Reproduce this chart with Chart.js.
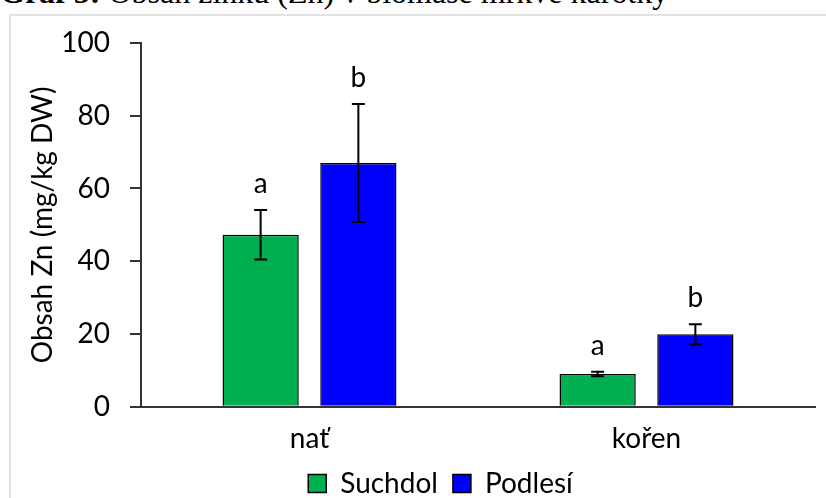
<!DOCTYPE html>
<html>
<head>
<meta charset="utf-8">
<script src="https://cdn.jsdelivr.net/npm/chart.js@4/dist/chart.umd.min.js"></script>
<style>
	html, body { margin: 0; padding: 0; background: #fff; }
	body { width: 826px; height: 498px; position: relative; overflow: hidden; }
	#caption {
		position: absolute; left: 0; top: -24px;
		font-family: "Liberation Serif", "Times New Roman", serif;
		font-size: 32px; line-height: 32px; white-space: nowrap; color: #000;
	}
	#frame {
		position: absolute; left: 9px; top: 14px; width: 900px; height: 600px;
		border: 2px solid #e3e3e3;
	}
	#chart { position: absolute; left: 0; top: 0; }
</style>
</head>
<body>
<div id="caption"><b>Graf 5:</b> Obsah zinku (Zn) v biomase mrkve karotky</div>
<div id="frame"></div>
<canvas id="chart" width="826" height="498"></canvas>
<script>
// categories and series
const categories = ["nať", "kořen"];
const seriesNames = ["Suchdol", "Podlesí"];
const suchdolValues = [47.3, 9.0];
const podlesiValues = [67.0, 19.9];
const suchdolErrors = [6.8, 0.6];
const podlesiErrors = [16.2, 2.8];
const suchdolLetters = ["a", "a"];
const podlesiLetters = ["b", "b"];
const yTicks = [0, 20, 40, 60, 80, 100];

const FONT = "Lato, 'Open Sans', sans-serif";
const FONT_SIZE = 28;

/**
 * Draws error bars and the significance letters above them
 */
const errorBarPlugin = {
	id: "errorBars",
	afterDatasetsDraw(chart) {
		const ctx = chart.ctx;
		const yScale = chart.scales.y;
		chart.data.datasets.forEach((ds, i) => {
			const meta = chart.getDatasetMeta(i);
			meta.data.forEach((bar, j) => {
				const v = ds.data[j];
				const e = ds.errors[j];
				const top = yScale.getPixelForValue(v + e);
				const bottom = yScale.getPixelForValue(v - e);
				const cap = 6.5;
				ctx.save();
				ctx.strokeStyle = "#000";
				ctx.lineWidth = 2;
				ctx.beginPath();
				ctx.moveTo(bar.x, top);
				ctx.lineTo(bar.x, bottom);
				ctx.moveTo(bar.x - cap, top);
				ctx.lineTo(bar.x + cap, top);
				ctx.moveTo(bar.x - cap, bottom);
				ctx.lineTo(bar.x + cap, bottom);
				ctx.stroke();
				ctx.fillStyle = "#000";
				ctx.font = `${FONT_SIZE}px ${FONT}`;
				ctx.textAlign = "center";
				ctx.textBaseline = "alphabetic";
				ctx.fillText(ds.letters[j], bar.x, top - 17);
				ctx.restore();
			});
		});
	},
};

// moves the legend to where the original has it
const legendShiftPlugin = {
	id: "legendShift",
	beforeDraw(chart) {
		const legend = chart.legend;
		if (legend && !legend._shifted) {
			legend.left += 33;
			legend.right += 33;
			legend.top -= 13.5;
			legend.bottom = chart.height;
			legend._shifted = true;
		}
	},
	afterUpdate(chart) {
		if (chart.legend) chart.legend._shifted = false;
	},
};

const ctx = document.getElementById("chart").getContext("2d");

new Chart(ctx, {
	type: "bar",
	data: {
		labels: categories,
		datasets: [
			{
				label: seriesNames[0],
				data: suchdolValues,
				errors: suchdolErrors,
				letters: suchdolLetters,
				backgroundColor: "#00B050",
				borderColor: "#000",
				borderWidth: 1.5,
				categoryPercentage: 0.58,
				barPercentage: 0.78,
			},
			{
				label: seriesNames[1],
				data: podlesiValues,
				errors: podlesiErrors,
				letters: podlesiLetters,
				backgroundColor: "#0000FF",
				borderColor: "#000",
				borderWidth: 1.5,
				categoryPercentage: 0.58,
				barPercentage: 0.78,
			},
		],
	},
	options: {
		responsive: false,
		animation: false,
		layout: { padding: { top: 43, right: 11, left: 0, bottom: 0 } },
		plugins: {
			legend: {
				position: "bottom",
				maxHeight: 30,
				labels: {
					color: "#000",
					font: { family: FONT, size: FONT_SIZE },
					boxWidth: 18,
					boxHeight: 18,
					padding: 15,
				},
			},
			tooltip: { enabled: false },
		},
		scales: {
			x: {
				grid: { display: false },
				border: { display: true, color: "#333", width: 2 },
				ticks: { color: "#000", font: { family: FONT, size: FONT_SIZE }, padding: 7 },
				afterFit(scale) { scale.height = 61.3; },
			},
			y: {
				min: 0,
				max: 100,
				afterBuildTicks(scale) { scale.ticks = yTicks.map((v) => ({ value: v })); },
				grid: { drawOnChartArea: false, drawTicks: true, tickLength: 11, color: "#333", lineWidth: 2 },
				border: { display: true, color: "#333", width: 2 },
				ticks: { color: "#000", font: { family: FONT, size: FONT_SIZE }, padding: 20 },
				title: {
					display: true,
					text: "Obsah Zn (mg/kg DW)",
					color: "#000",
					font: { family: FONT, size: FONT_SIZE },
					padding: { top: 26, bottom: 0 },
				},
				afterFit(scale) { scale.width = 141; },
			},
		},
	},
	plugins: [errorBarPlugin, legendShiftPlugin],
});
</script>
</body>
</html>
